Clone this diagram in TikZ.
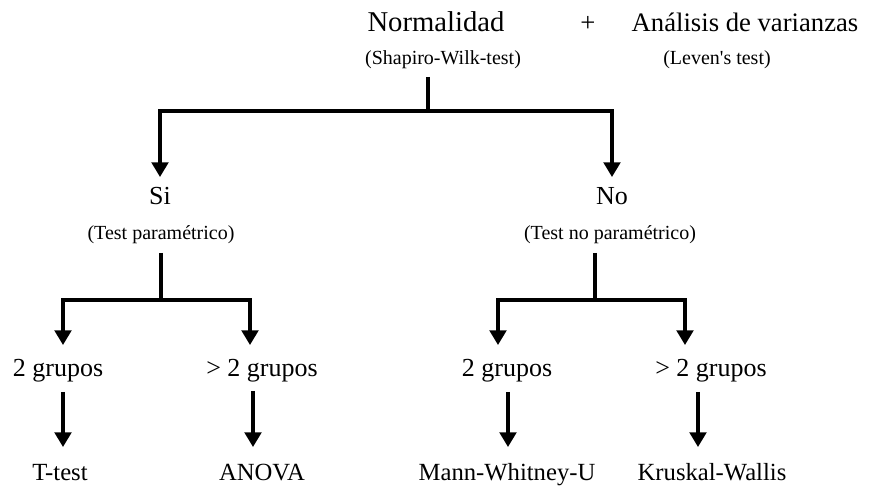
\documentclass[tikz,border=0pt]{standalone}
\usepackage{fontspec}
\setmainfont{Liberation Serif}
\usetikzlibrary{arrows.meta,calc}
\begin{document}
\begin{tikzpicture}[x=0.75pt,y=-0.75pt,
  toptxt/.style={anchor=base,inner sep=0pt,font=\fontsize{20}{24}\selectfont},
  midtxt/.style={anchor=base,inner sep=0pt,font=\fontsize{19.5}{23}\selectfont},
  bottxt/.style={anchor=base,inner sep=0pt,font=\fontsize{18.5}{22}\selectfont},
  smalltxt/.style={anchor=base,inner sep=0pt,font=\fontsize{15}{18}\selectfont},
  conn/.style={line width=2.3pt},
  arr/.style={conn,-{Triangle[width=12.5pt,length=11pt]}}]
\useasboundingbox (0,0) rectangle (882,491);

% texts
\node[toptxt,font=\fontsize{21.5}{25}\selectfont] (norm) at (436,32) {Normalidad};
\node[toptxt] (plus) at (588,32) {+};
\node[toptxt] (anal) at (745,32) {Análisis de varianzas};
\node[smalltxt] (shap) at (443,65) {(Shapiro-Wilk-test)};
\node[smalltxt] (leve) at (717,65) {(Leven\textquotesingle s test)};
\node[midtxt] (si) at (160,205) {Si};
\node[smalltxt] (tp) at (161,240) {(Test paramétrico)};
\node[midtxt] (no) at (612,205) {No};
\node[smalltxt] (tnp) at (610,240) {(Test no paramétrico)};
\node[midtxt] (g1) at (58,377) {2 grupos};
\node[midtxt] (g2) at (262,377) {> 2 grupos};
\node[midtxt] (g3) at (507,377) {2 grupos};
\node[midtxt] (g4) at (711,377) {> 2 grupos};
\node[bottxt] (tt) at (60,480) {T-test};
\node[bottxt] (an) at (262,480) {ANOVA};
\node[bottxt] (mw) at (507,480) {Mann-Whitney-U};
\node[bottxt] (kw) at (712,480) {Kruskal-Wallis};

% first split
\coordinate (j0) at ($(shap.base)+(-15,46)$);
\draw[conn] ($(shap.base)+(-15,12)$) -- (j0);
\draw[arr] (j0) -| ($(si.base)+(0,-28)$);
\draw[arr] (j0) -| ($(no.base)+(0,-28)$);

% parametric branch
\coordinate (j1) at ($(tp.base)+(0,60)$);
\draw[conn] ($(tp.base)+(0,13)$) -- (j1);
\draw[arr] (j1) -| ($(g1.base)+(5,-32)$);
\draw[arr] (j1) -| ($(g2.base)+(-12,-32)$);

% non-parametric branch
\coordinate (j2) at ($(tnp.base)+(-15,60)$);
\draw[conn] ($(tnp.base)+(-15,13)$) -- (j2);
\draw[arr] (j2) -| ($(g3.base)+(-9,-32)$);
\draw[arr] (j2) -| ($(g4.base)+(-26,-32)$);

% final tests
\draw[arr] ($(g1.base)+(5,15)$) -- ($(tt.base)+(3,-33)$);
\draw[arr] ($(g2.base)+(-9,14)$) -- ($(an.base)+(-9,-33)$);
\draw[arr] ($(g3.base)+(1,15)$) -- ($(mw.base)+(1,-33)$);
\draw[arr] ($(g4.base)+(-13,15)$) -- ($(kw.base)+(-14,-33)$);
\end{tikzpicture}
\end{document}
